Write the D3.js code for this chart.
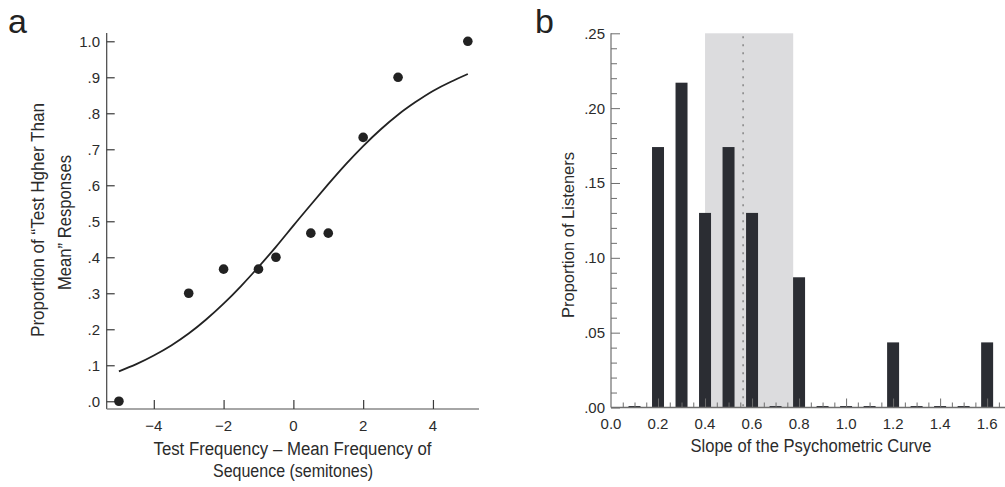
<!DOCTYPE html>
<html><head><meta charset="utf-8">
<script src="https://cdn.jsdelivr.net/npm/d3@7"></script>
<style>
body{margin:0;background:#fff;}
svg{display:block;font-family:"Liberation Sans",Arial,sans-serif;}
</style></head>
<body><svg id="c" width="1005" height="487"></svg>
<script>
// ---------- Panel a data ----------
const aPointX = [-5, -3, -2, -1, -0.5, 0.5, 1, 2, 3, 5];
const aPointY = [0, 0.30, 0.367, 0.367, 0.40, 0.467, 0.467, 0.733, 0.90, 1.0];
const aFitX = [-5,-4.5,-4,-3.5,-3,-2.5,-2,-1.5,-1,-0.5,0,0.5,1,1.5,2,2.5,3,3.5,4,4.5,5];
const aFitY = [0.083,0.103,0.127,0.155,0.188,0.227,0.271,0.320,0.373,0.429,0.488,0.546,0.603,0.658,0.709,0.755,0.796,0.831,0.862,0.887,0.909];
const aXTicks = [-4, -2, 0, 2, 4];
const aYTicks = [0, 0.1, 0.2, 0.3, 0.4, 0.5, 0.6, 0.7, 0.8, 0.9, 1.0];
const aXLabel = ["Test Frequency \u2013 Mean Frequency  of", "Sequence (semitones)"];
const aYLabel = ["Proportion of \u201CTest Hgher Than", "Mean\u201D Responses"];

// ---------- Panel b data ----------
const bSlope = [0.1,0.2,0.3,0.4,0.5,0.6,0.7,0.8,0.9,1.0,1.1,1.2,1.3,1.4,1.5,1.6];
const bProp  = [0,0.174,0.217,0.130,0.174,0.130,0,0.087,0,0,0,0.0435,0,0,0,0.0435];
const bXTicks = [0,0.2,0.4,0.6,0.8,1.0,1.2,1.4,1.6];
const bYTicks = [0,0.05,0.10,0.15,0.20,0.25];
const bBand = [0.40, 0.775];
const bMean = [0.562];
const bXLabel = "Slope of the Psychometric Curve";
const bYLabel = "Proportion of Listeners";

const svg = d3.select("#c");
const axisCol = "#6e6e6e", tickCol = "#3a3a3a", txtCol = "#2b2b2b", dark = "#2b2d33";

// ================= Panel a =================
const ax = d3.scaleLinear().domain([-5.35, 5.32]).range([106.7, 479]);
const ay = d3.scaleLinear().domain([-0.0215, 1.023]).range([409, 33]);
const ga = svg.append("g");

ga.append("line").attr("x1", ax.range()[0]).attr("x2", ax.range()[0])
  .attr("y1", ay.range()[1]).attr("y2", ay.range()[0]).attr("stroke", "#444").attr("stroke-width", 1.2);
ga.append("line").attr("x1", ax.range()[0]).attr("x2", ax.range()[1])
  .attr("y1", ay.range()[0]).attr("y2", ay.range()[0]).attr("stroke", "#888").attr("stroke-width", 1.5);

const ayAxis = ga.append("g").attr("transform", `translate(${ax.range()[0]},0)`)
  .call(d3.axisRight(ay).tickValues(aYTicks).tickSize(8).tickFormat(""));
ayAxis.select(".domain").remove();
ayAxis.selectAll("line").attr("stroke", tickCol).attr("stroke-width", 1.2);
ga.selectAll(".aytl").data(aYTicks).join("text")
  .attr("x", 100).attr("y", d => ay(d)).attr("dy", "0.36em")
  .attr("text-anchor", "end").attr("font-size", 15).attr("fill", txtCol)
  .text(d => d === 1 ? "1.0" : d3.format(".1f")(d).replace(/^0/, ""));

const axAxis = ga.append("g").attr("transform", `translate(0,${ay.range()[0]})`)
  .call(d3.axisTop(ax).tickValues(aXTicks).tickSize(9).tickFormat(""));
axAxis.select(".domain").remove();
axAxis.selectAll("line").attr("stroke", tickCol).attr("stroke-width", 1.2);
ga.selectAll(".axtl").data(aXTicks).join("text")
  .attr("x", d => ax(d)).attr("y", 431)
  .attr("text-anchor", "middle").attr("font-size", 15).attr("fill", txtCol)
  .text(d => d < 0 ? "\u2212" + Math.abs(d) : String(d));

const fitData = aFitX.map((x, i) => [x, aFitY[i]]);
ga.append("path").datum(fitData)
  .attr("d", d3.line().x(d => ax(d[0])).y(d => ay(d[1])).curve(d3.curveNatural))
  .attr("fill", "none").attr("stroke", "#222").attr("stroke-width", 1.8);

ga.selectAll(".pt").data(aPointX.map((x, i) => [x, aPointY[i]])).join("circle")
  .attr("cx", d => ax(d[0])).attr("cy", d => ay(d[1])).attr("r", 4.8).attr("fill", "#222");

ga.append("text").attr("x", 292.5).attr("y", 455).attr("text-anchor", "middle")
  .attr("font-size", 18).attr("fill", txtCol).attr("textLength", 278).attr("lengthAdjust", "spacingAndGlyphs")
  .text(aXLabel[0]);
ga.append("text").attr("x", 293).attr("y", 477).attr("text-anchor", "middle")
  .attr("font-size", 18).attr("fill", txtCol).attr("textLength", 160).attr("lengthAdjust", "spacingAndGlyphs")
  .text(aXLabel[1]);
ga.append("text").attr("transform", "translate(44,220) rotate(-90)").attr("text-anchor", "middle")
  .attr("font-size", 18).attr("fill", txtCol).attr("textLength", 234).attr("lengthAdjust", "spacingAndGlyphs")
  .text(aYLabel[0]);
ga.append("text").attr("transform", "translate(71,222.5) rotate(-90)").attr("text-anchor", "middle")
  .attr("font-size", 18).attr("fill", txtCol).attr("textLength", 135).attr("lengthAdjust", "spacingAndGlyphs")
  .text(aYLabel[1]);
ga.append("text").attr("x", 8).attr("y", 33).attr("font-size", 34).attr("fill", "#222").text("a");

// ================= Panel b =================
const bx = d3.scaleLinear().domain([0, 1.676]).range([611, 1005]);
const by = d3.scaleLinear().domain([0, 0.25]).range([407.5, 33.3]);
const gb = svg.append("g");

gb.append("rect").attr("x", bx(bBand[0])).attr("width", bx(bBand[1]) - bx(bBand[0]))
  .attr("y", by(0.25)).attr("height", by(0) - by(0.25)).attr("fill", "#dcdcde");

const bw = bx(0.051) - bx(0);
gb.selectAll(".bar").data(bSlope.map((s, i) => [s, bProp[i]])).join("rect")
  .attr("x", d => bx(d[0]) - bw / 2).attr("width", bw)
  .attr("y", d => d[1] > 0 ? by(d[1]) : by(0) - 1.5)
  .attr("height", d => d[1] > 0 ? by(0) - by(d[1]) : 2)
  .attr("fill", dark);

gb.selectAll(".mean").data(bMean).join("line")
  .attr("x1", d => bx(d)).attr("x2", d => bx(d)).attr("y1", by(0.25) + 3).attr("y2", by(0))
  .attr("stroke", "#8a8a8a").attr("stroke-width", 1.6).attr("stroke-dasharray", "2,6");

gb.append("line").attr("x1", bx(0)).attr("x2", bx(0)).attr("y1", by(0.25)).attr("y2", by(0))
  .attr("stroke", axisCol).attr("stroke-width", 1.2);
gb.append("line").attr("x1", bx(0)).attr("x2", bx.range()[1]).attr("y1", by(0)).attr("y2", by(0))
  .attr("stroke", axisCol).attr("stroke-width", 1.5);

const byMinor = d3.range(0, 26).map(i => i / 100);
const byAxis = gb.append("g").attr("transform", `translate(${bx(0)},0)`)
  .call(d3.axisRight(by).tickValues(byMinor).tickSize(6).tickFormat(""));
byAxis.select(".domain").remove();
byAxis.selectAll("line").attr("stroke", axisCol).attr("stroke-width", 1)
  .attr("x2", d => (Math.round(d * 100) % 5 === 0) ? 9 : 6);
gb.selectAll(".bytl").data(bYTicks).join("text")
  .attr("x", 605).attr("y", d => by(d)).attr("dy", "0.36em")
  .attr("text-anchor", "end").attr("font-size", 15).attr("fill", txtCol)
  .text(d => d3.format(".2f")(d).replace(/^0/, ""));

const bxMinor = d3.range(1, 34).map(i => i * 0.05);
const bxAxis = gb.append("g").attr("transform", `translate(0,${by(0)})`)
  .call(d3.axisTop(bx).tickValues(bxMinor).tickSize(5).tickFormat(""));
bxAxis.select(".domain").remove();
bxAxis.selectAll("line").attr("stroke", axisCol).attr("stroke-width", 1)
  .attr("y2", d => (Math.round(d * 20) % 4 === 0) ? -9 : -5);
gb.selectAll(".bxtl").data(bXTicks).join("text")
  .attr("x", d => bx(d)).attr("y", 429)
  .attr("text-anchor", "middle").attr("font-size", 15).attr("fill", txtCol)
  .text(d => d3.format(".1f")(d));

gb.append("text").attr("x", 811).attr("y", 452).attr("text-anchor", "middle")
  .attr("font-size", 18).attr("fill", txtCol).attr("textLength", 241).attr("lengthAdjust", "spacingAndGlyphs")
  .text(bXLabel);
gb.append("text").attr("transform", "translate(574,235) rotate(-90)").attr("text-anchor", "middle")
  .attr("font-size", 17).attr("fill", txtCol).attr("textLength", 166).attr("lengthAdjust", "spacingAndGlyphs")
  .text(bYLabel);
gb.append("text").attr("x", 535).attr("y", 33).attr("font-size", 34).attr("fill", "#222").text("b");
</script></body></html>
